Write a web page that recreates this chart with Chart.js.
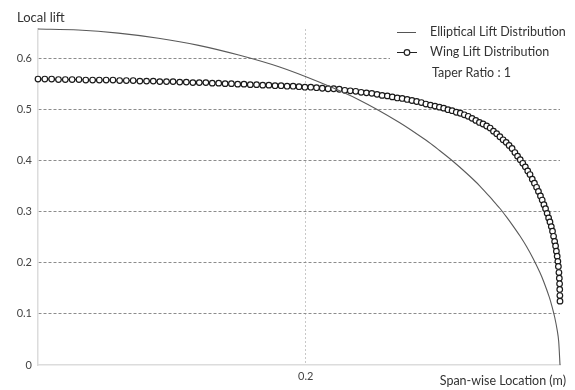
<!DOCTYPE html>
<html>
<head>
<meta charset="utf-8">
<script src="https://cdn.jsdelivr.net/npm/chart.js@4"></script>
<style>
  html, body { margin: 0; padding: 0; background: #fff; }
  #wrap { width: 575px; height: 390px; }
</style>
</head>
<body>
<div id="wrap"><canvas id="liftPlot" width="575" height="390"></canvas></div>
<script>
// span-wise stations (m) and local lift
const wingX = [0,0.0051,0.0102,0.0153,0.0204,0.0255,0.0306,0.0357,0.0408,0.0458,
  0.0509,0.0560,0.0610,0.0660,0.0711,0.0761,0.0811,0.0861,0.0910,0.0960,
  0.1009,0.1059,0.1108,0.1157,0.1205,0.1254,0.1302,0.1350,0.1398,0.1445,
  0.1492,0.1539,0.1586,0.1633,0.1679,0.1725,0.1771,0.1816,0.1861,0.1906,
  0.1950,0.1994,0.2038,0.2081,0.2124,0.2167,0.2209,0.2251,0.2292,0.2333,
  0.2374,0.2414,0.2454,0.2494,0.2533,0.2571,0.2610,0.2647,0.2684,0.2721,
  0.2758,0.2794,0.2829,0.2864,0.2898,0.2932,0.2966,0.2999,0.3031,0.3063,
  0.3094,0.3125,0.3155,0.3185,0.3214,0.3243,0.3271,0.3298,0.3325,0.3352,
  0.3378,0.3403,0.3427,0.3451,0.3475,0.3498,0.3520,0.3542,0.3563,0.3583,
  0.3603,0.3622,0.3641,0.3659,0.3676,0.3693,0.3709,0.3725,0.3739,0.3754,
  0.3767,0.3780,0.3792,0.3804,0.3815,0.3825,0.3835,0.3844,0.3852,0.3860,
  0.3867,0.3873,0.3879,0.3884,0.3888,0.3892,0.3895,0.3897,0.3898,0.3899,
  0.3900];
const wingLift = [0.560,0.560,0.560,0.559,0.559,0.559,0.559,0.558,0.558,0.558,
  0.558,0.558,0.557,0.557,0.557,0.556,0.556,0.556,0.555,0.555,
  0.555,0.554,0.554,0.553,0.553,0.553,0.552,0.552,0.551,0.551,
  0.550,0.550,0.549,0.549,0.548,0.548,0.547,0.547,0.546,0.546,
  0.545,0.544,0.544,0.543,0.542,0.541,0.541,0.540,0.538,0.537,
  0.536,0.534,0.533,0.532,0.530,0.528,0.527,0.525,0.523,0.522,
  0.520,0.518,0.516,0.514,0.511,0.509,0.507,0.505,0.503,0.500,
  0.498,0.495,0.493,0.490,0.487,0.483,0.479,0.475,0.472,0.468,
  0.464,0.458,0.453,0.447,0.441,0.436,0.430,0.424,0.416,0.409,
  0.402,0.395,0.388,0.380,0.373,0.364,0.356,0.348,0.340,0.331,
  0.323,0.314,0.306,0.297,0.288,0.280,0.271,0.262,0.252,0.242,
  0.233,0.223,0.213,0.203,0.193,0.181,0.170,0.159,0.148,0.136,
  0.125];

const ellipseX = [0,0.03,0.06,0.09,0.12,0.15,0.18,0.21,0.24,0.27,0.29,0.30,0.31,0.32,0.33,
  0.34,0.345,0.35,0.355,0.36,0.365,0.37,0.375,0.378,0.382,0.384,0.386,0.388,0.389,0.39];
const ellipseLift = [0.658,0.656,0.650,0.640,0.626,0.607,0.584,0.554,0.519,0.475,0.440,0.420,0.399,0.376,0.351,
  0.322,0.307,0.290,0.272,0.253,0.232,0.208,0.181,0.162,0.133,0.115,0.094,0.067,0.047,0];

const yTicks = [0, 0.1, 0.2, 0.3, 0.4, 0.5, 0.6];
const xTicks = [0.2];
const yLabels = ['0', '0.1', '0.2', '0.3', '0.4', '0.5', '0.6'];
const xLabels = ['0.2'];

const seriesNames = ['Elliptical Lift Distribution', 'Wing Lift Distribution'];
const noteText = 'Taper Ratio : 1';
const yTitle = 'Local lift';
const xTitle = 'Span-wise Location (m)';

const FONT = 'Lato, "Open Sans", sans-serif';

const ellipsePts = ellipseX.map((x, i) => ({ x: x, y: ellipseLift[i] }));
const wingPts = wingX.map((x, i) => ({ x: x, y: wingLift[i] }));

// legend + axis titles drawn by hand so they sit where the original has them
const decorations = {
    id: 'decorations',
    afterDraw(chart) {
        const ctx = chart.ctx;
        ctx.save();
        // legend box covers the grid behind it
        ctx.fillStyle = '#fff';
        ctx.fillRect(390, 20, 185, 64);

        ctx.font = '12.5px ' + FONT;
        ctx.fillStyle = '#333';
        ctx.textBaseline = 'middle';
        ctx.textAlign = 'left';

        // row 1 - solid line
        ctx.strokeStyle = '#555';
        ctx.lineWidth = 1;
        ctx.beginPath();
        ctx.moveTo(397, 32.5);
        ctx.lineTo(416, 32.5);
        ctx.stroke();
        ctx.fillText(chart.data.datasets[0].label, 430, 32);

        // row 2 - line with circle
        ctx.strokeStyle = '#222';
        ctx.beginPath();
        ctx.moveTo(397, 52.5);
        ctx.lineTo(417, 52.5);
        ctx.stroke();
        ctx.fillStyle = '#fff';
        ctx.lineWidth = 1.2;
        ctx.beginPath();
        ctx.arc(407, 52.5, 2.8, 0, Math.PI * 2);
        ctx.fill();
        ctx.stroke();
        ctx.fillStyle = '#333';
        ctx.fillText(chart.data.datasets[1].label, 430, 52);

        // row 3 - note
        ctx.fillText(noteText, 432, 73);

        // axis titles
        ctx.font = '13px ' + FONT;
        ctx.fillText(yTitle, 17, 18);
        ctx.font = '12.5px ' + FONT;
        ctx.textAlign = 'right';
        ctx.fillText(xTitle, 566, 381);
        ctx.restore();
    }
};

const liftCtx = document.getElementById('liftPlot').getContext('2d');
const liftChart = new Chart(liftCtx, {
    type: 'scatter',
    data: {
        datasets: [{
            label: seriesNames[0],
            data: ellipsePts,
            showLine: true,
            borderColor: '#5a5a5a',
            borderWidth: 1.1,
            pointRadius: 0,
            tension: 0.3,
            clip: false
        }, {
            label: seriesNames[1],
            data: wingPts,
            showLine: true,
            borderColor: '#1a1a1a',
            borderWidth: 1.1,
            pointRadius: 2.8,
            pointBorderWidth: 1.2,
            pointBorderColor: '#1a1a1a',
            pointBackgroundColor: '#fff',
            tension: 0,
            clip: false
        }]
    },
    options: {
        responsive: false,
        animation: false,
        layout: { padding: { left: 0, right: 15, top: 29, bottom: 0 } },
        plugins: {
            legend: { display: false },
            tooltip: { enabled: false }
        },
        scales: {
            x: {
                type: 'linear',
                min: 0,
                max: 0.39,
                afterBuildTicks: axis => { axis.ticks = xTicks.map(v => ({ value: v })); },
                afterFit: axis => { axis.height = 25; },
                ticks: {
                    callback: (v, i) => xLabels[i],
                    font: { family: FONT, size: 11 },
                    color: '#444',
                    padding: 5,
                    maxRotation: 0
                },
                grid: {
                    drawTicks: false,
                    color: '#c8c8c8',
                    lineWidth: 1
                },
                border: { color: '#dcdcdc', width: 1.5, dash: [2, 2] }
            },
            y: {
                min: 0,
                max: 0.658,
                afterBuildTicks: axis => { axis.ticks = yTicks.map(v => ({ value: v })); },
                afterFit: axis => { axis.width = 38; },
                ticks: {
                    callback: (v, i) => yLabels[i],
                    font: { family: FONT, size: 11 },
                    color: '#444',
                    padding: 6
                },
                grid: {
                    drawTicks: false,
                    color: ctx => (ctx.tick && ctx.tick.value === 0) ? 'rgba(0,0,0,0)' : '#8c8c8c',
                    lineWidth: 1
                },
                border: { color: '#dcdcdc', width: 1.5, dash: [3, 2] }
            }
        }
    },
    plugins: [decorations]
});
</script>
</body>
</html>
